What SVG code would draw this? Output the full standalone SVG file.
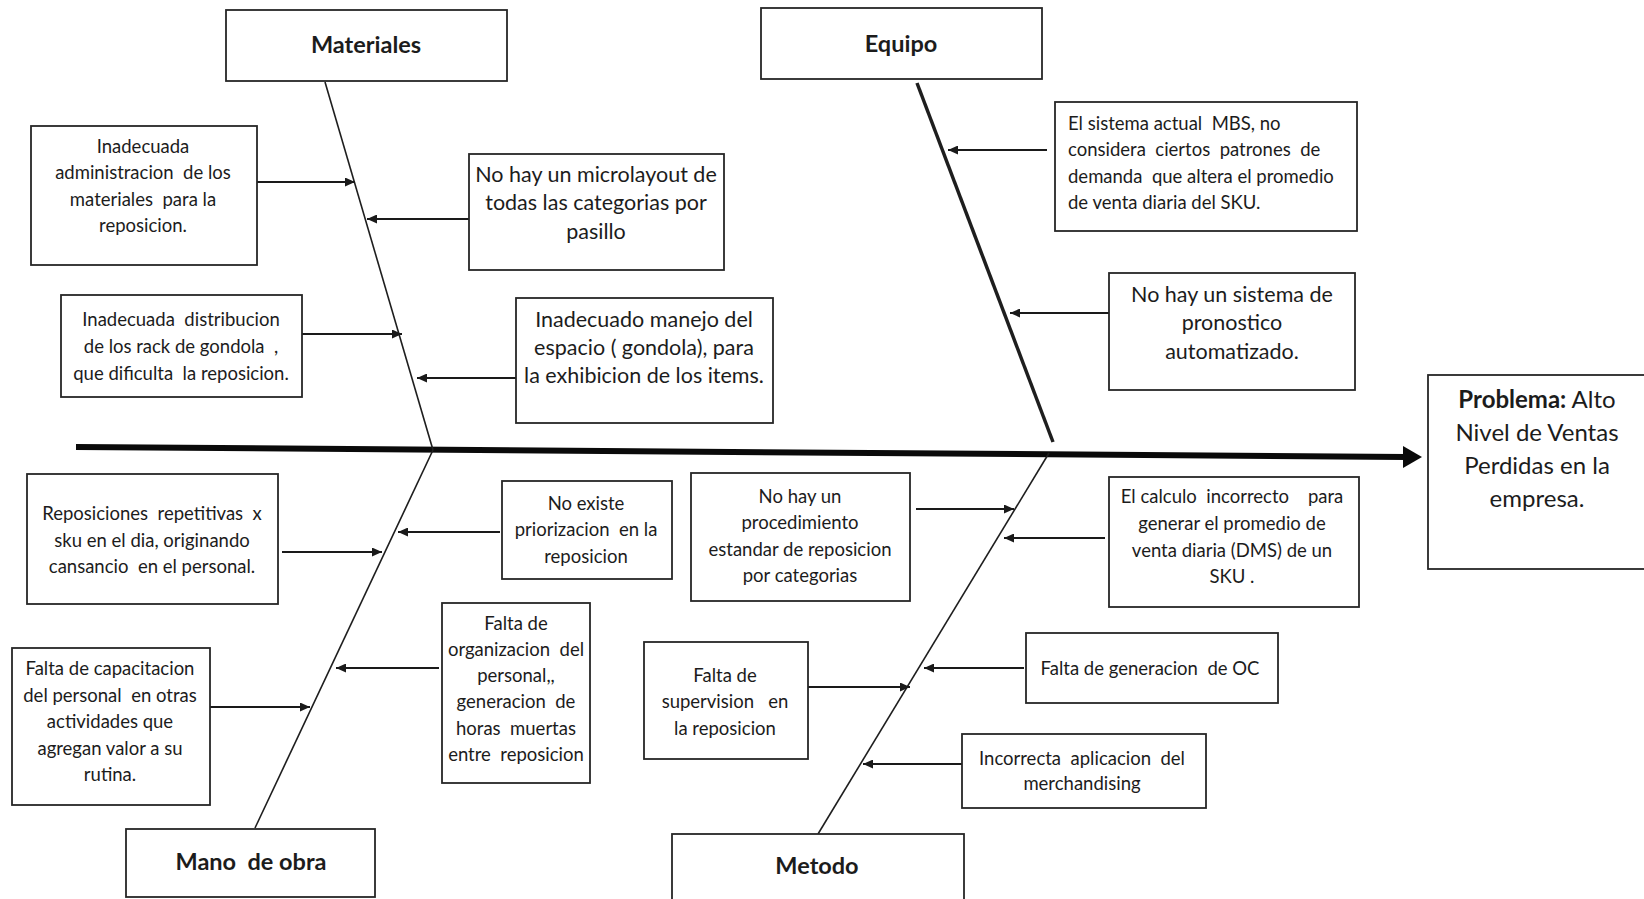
<svg xmlns="http://www.w3.org/2000/svg" width="1644" height="899" viewBox="0 0 1644 899">
<style>
.box{fill:#fff;stroke:#262626;stroke-width:1.8}
text{font-family:Lato,"Liberation Sans",sans-serif;fill:#1c1c1c;white-space:pre}
.t{font-size:18.5px;text-anchor:middle}
.tm{font-size:21.5px;text-anchor:middle}
.tl{font-size:18.5px;text-anchor:start}
.h{font-size:23.5px;font-weight:bold;text-anchor:middle}
.p{font-size:24px;text-anchor:middle}
.bone{stroke:#1e1e1e;stroke-width:1.6;fill:none}
.arr{stroke:#1a1a1a;stroke-width:2;fill:none;marker-end:url(#ah)}
</style>
<defs>
<marker id="ah" markerUnits="userSpaceOnUse" markerWidth="11" markerHeight="9" refX="10" refY="4.5" orient="auto">
<path d="M0,0 L10,4.5 L0,9 Z" fill="#1a1a1a"/>
</marker>
</defs>
<rect width="1644" height="899" fill="#fff"/>

<g id="connectors">
<line x1="76" y1="447" x2="1406" y2="457" stroke="#0a0a0a" stroke-width="6"/>
<polygon points="1422,457 1403,446 1403,468" fill="#0a0a0a"/>
<line class="bone" x1="325" y1="82" x2="433" y2="450"/>
<line class="bone" x1="433" y1="450" x2="255" y2="828"/>
<line class="bone" x1="917" y1="83" x2="1053" y2="442" style="stroke-width:3.5"/>
<line class="bone" x1="1049" y1="453" x2="818" y2="834"/>
<line class="arr" x1="257" y1="182" x2="355" y2="182"/>
<line class="arr" x1="469" y1="219" x2="367" y2="219"/>
<line class="arr" x1="302" y1="334" x2="402" y2="334"/>
<line class="arr" x1="516" y1="378" x2="417" y2="378"/>
<line class="arr" x1="1047" y1="150" x2="948" y2="150"/>
<line class="arr" x1="1109" y1="313" x2="1010" y2="313"/>
<line class="arr" x1="282" y1="552" x2="382" y2="552"/>
<line class="arr" x1="500" y1="532" x2="398" y2="532"/>
<line class="arr" x1="916" y1="509" x2="1014" y2="509"/>
<line class="arr" x1="1105" y1="538" x2="1004" y2="538"/>
<line class="arr" x1="210" y1="707" x2="310" y2="707"/>
<line class="arr" x1="439" y1="668" x2="336" y2="668"/>
<line class="arr" x1="808" y1="687" x2="910" y2="687"/>
<line class="arr" x1="1024" y1="668" x2="924" y2="668"/>
<line class="arr" x1="962" y1="764" x2="863" y2="764"/>
</g>

<g id="materiales">
<rect class="box" x="226" y="10" width="281" height="71"/>
<text class="h" x="366" y="53">Materiales</text>
</g>
<g id="equipo">
<rect class="box" x="761" y="8" width="281" height="71"/>
<text class="h" x="901" y="52">Equipo</text>
</g>
<g id="mano-de-obra">
<rect class="box" x="126" y="829" width="249" height="68"/>
<text class="h" x="251" y="870">Mano  de obra</text>
</g>
<g id="metodo">
<rect class="box" x="672" y="834" width="292" height="80"/>
<text class="h" x="817" y="874">Metodo</text>
</g>
<g id="problema">
<rect class="box" x="1428" y="375" width="230" height="194"/>
<text class="p" x="1537" y="408"><tspan font-weight="bold">Problema:</tspan> Alto</text>
<text class="p" x="1537" y="441">Nivel de Ventas</text>
<text class="p" x="1537" y="474">Perdidas en la</text>
<text class="p" x="1537" y="507">empresa.</text>
</g>

<g id="c-admin-materiales">
<rect class="box" x="31" y="126" width="226" height="139"/>
<text class="t" x="143" y="153">Inadecuada</text>
<text class="t" x="143" y="179">administracion  de los</text>
<text class="t" x="143" y="206">materiales  para la</text>
<text class="t" x="143" y="232">reposicion.</text>
</g>
<g id="c-microlayout">
<rect class="box" x="469" y="154" width="255" height="116"/>
<text class="tm" x="596" y="182">No hay un microlayout de</text>
<text class="tm" x="596" y="210">todas las categorias por</text>
<text class="tm" x="596" y="239">pasillo</text>
</g>
<g id="c-distribucion-rack">
<rect class="box" x="61" y="295" width="241" height="102"/>
<text class="t" x="181" y="326">Inadecuada  distribucion</text>
<text class="t" x="181" y="353">de los rack de gondola  ,</text>
<text class="t" x="181" y="380">que dificulta  la reposicion.</text>
</g>
<g id="c-manejo-espacio">
<rect class="box" x="516" y="298" width="257" height="125"/>
<text class="tm" x="644" y="327">Inadecuado manejo del</text>
<text class="tm" x="644" y="355">espacio ( gondola), para</text>
<text class="tm" x="644" y="383">la exhibicion de los items.</text>
</g>
<g id="c-sistema-mbs">
<rect class="box" x="1055" y="102" width="302" height="129"/>
<text class="tl" x="1068" y="130">El sistema actual  MBS, no</text>
<text class="tl" x="1068" y="156">considera  ciertos  patrones  de</text>
<text class="tl" x="1068" y="183">demanda  que altera el promedio</text>
<text class="tl" x="1068" y="209">de venta diaria del SKU.</text>
</g>
<g id="c-pronostico">
<rect class="box" x="1109" y="273" width="246" height="117"/>
<text class="tm" x="1232" y="302">No hay un sistema de</text>
<text class="tm" x="1232" y="330">pronostico</text>
<text class="tm" x="1232" y="359">automatizado.</text>
</g>
<g id="c-reposiciones-repetitivas">
<rect class="box" x="27" y="474" width="251" height="130"/>
<text class="t" x="152" y="520">Reposiciones  repetitivas  x</text>
<text class="t" x="152" y="547">sku en el dia, originando</text>
<text class="t" x="152" y="573">cansancio  en el personal.</text>
</g>
<g id="c-priorizacion">
<rect class="box" x="502" y="481" width="170" height="98"/>
<text class="t" x="586" y="510">No existe</text>
<text class="t" x="586" y="536">priorizacion  en la</text>
<text class="t" x="586" y="563">reposicion</text>
</g>
<g id="c-procedimiento">
<rect class="box" x="691" y="473" width="219" height="128"/>
<text class="t" x="800" y="503">No hay un</text>
<text class="t" x="800" y="529">procedimiento</text>
<text class="t" x="800" y="556">estandar de reposicion</text>
<text class="t" x="800" y="582">por categorias</text>
</g>
<g id="c-calculo-dms">
<rect class="box" x="1109" y="477" width="250" height="130"/>
<text class="t" x="1232" y="503">El calculo  incorrecto    para</text>
<text class="t" x="1232" y="530">generar el promedio de</text>
<text class="t" x="1232" y="557">venta diaria (DMS) de un</text>
<text class="t" x="1232" y="583">SKU .</text>
</g>
<g id="c-capacitacion">
<rect class="box" x="12" y="648" width="198" height="157"/>
<text class="t" x="110" y="675">Falta de capacitacion</text>
<text class="t" x="110" y="702">del personal  en otras</text>
<text class="t" x="110" y="728">actividades que</text>
<text class="t" x="110" y="755">agregan valor a su</text>
<text class="t" x="110" y="781">rutina.</text>
</g>
<g id="c-organizacion">
<rect class="box" x="442" y="603" width="148" height="180"/>
<text class="t" x="516" y="630">Falta de</text>
<text class="t" x="516" y="656">organizacion  del</text>
<text class="t" x="516" y="682">personal,,</text>
<text class="t" x="516" y="708">generacion  de</text>
<text class="t" x="516" y="735">horas  muertas</text>
<text class="t" x="516" y="761">entre  reposicion</text>
</g>
<g id="c-supervision">
<rect class="box" x="644" y="642" width="164" height="117"/>
<text class="t" x="725" y="682">Falta de</text>
<text class="t" x="725" y="708">supervision   en</text>
<text class="t" x="725" y="735">la reposicion</text>
</g>
<g id="c-generacion-oc">
<rect class="box" x="1026" y="633" width="252" height="70"/>
<text class="t" x="1150" y="675">Falta de generacion  de OC</text>
</g>
<g id="c-merchandising">
<rect class="box" x="962" y="734" width="244" height="74"/>
<text class="t" x="1082" y="765">Incorrecta  aplicacion  del</text>
<text class="t" x="1082" y="790">merchandising</text>
</g>
</svg>
